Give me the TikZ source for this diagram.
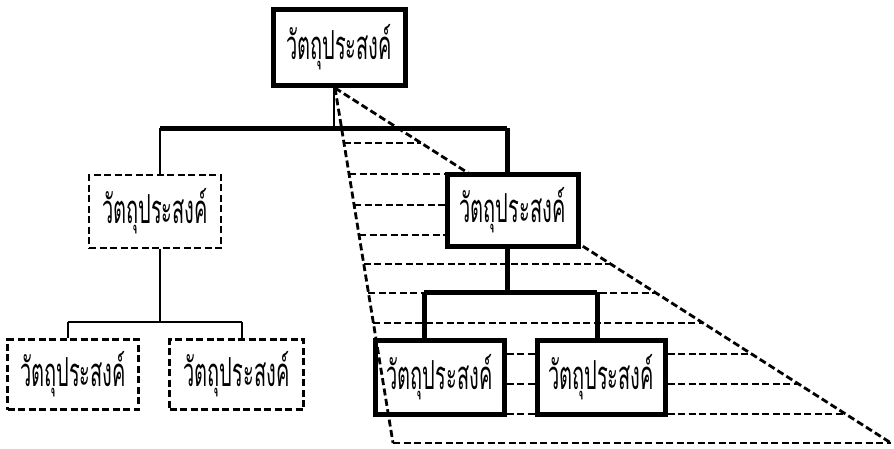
\documentclass[tikz,border=0pt]{standalone}
\usepackage{fontspec}
\newfontfamily\thaifont[Script=Thai]{Loma}
\usetikzlibrary{calc}
\tikzset{
  objbox/.style={draw, fill=white, line width=5pt, inner sep=0pt,
    font=\thaifont\fontsize{40}{44}\selectfont},
  ghostbox/.style={draw, dash pattern=on 7pt off 3.5pt, line width=2.6pt,
    inner sep=0pt, font=\thaifont\fontsize{40}{44}\selectfont},
  heavy/.style={line width=5pt},
  light/.style={line width=1.6pt},
  guide/.style={dash pattern=on 7pt off 3.5pt, line width=2.8pt},
}
\newcommand{\objtext}{\scalebox{0.5}[1]{วัตถุประสงค์}}
\begin{document}
\begin{tikzpicture}[x=1pt,y=-1pt]
\useasboundingbox (0,0) rectangle (894,448);

% trapezoid frame
\coordinate (apex) at (335,88);
\coordinate (bl) at (393,443);
\coordinate (br) at (891,443);

% nodes
\node[objbox, minimum width=132pt, minimum height=76pt] (top) at (339,47) {\objtext};
\node[ghostbox, minimum width=132pt, minimum height=73pt] (lmid) at (155,211.5) {\objtext};
\node[ghostbox, minimum width=131pt, minimum height=70pt] (lla) at (73,374.5) {\objtext};
\node[ghostbox, minimum width=134pt, minimum height=70pt] (llb) at (236.5,374.5) {\objtext};

% right edge of the frame and full-width level lines (behind the boxes)
\draw[guide] (apex) -- (br);
\foreach \yy in {143,264,293,323,443}{
  \pgfmathsetmacro{\lev}{(\yy-88)/355}
  \coordinate (pl) at ($(apex)!\lev!(bl)$);
  \coordinate (pr) at ($(apex)!\lev!(br)$);
  \draw[guide] (pl) -- (pr);
}

\node[objbox, minimum width=131pt, minimum height=72pt] (rmid) at (512.5,210) {\objtext};
\node[objbox, minimum width=129pt, minimum height=74pt] (rla) at (439.5,377) {\objtext};
\node[objbox, minimum width=128pt, minimum height=74pt] (rlb) at (601,377) {\objtext};

% level lines broken by the boxes
\foreach \yy in {174,205,235}{
  \pgfmathsetmacro{\lev}{(\yy-88)/355}
  \coordinate (pl) at ($(apex)!\lev!(bl)$);
  \draw[guide] (pl) -- (pl -| rmid.west);
}
\foreach \yy in {354,384,414}{
  \pgfmathsetmacro{\lev}{(\yy-88)/355}
  \coordinate (pr) at ($(apex)!\lev!(br)$);
  \draw[guide] (pr -| rla.east) -- (pr -| rlb.west);
  \draw[guide] (pr -| rlb.east) -- (pr);
}

% tree connectors
\coordinate (j0) at (334,128);
\coordinate (jl) at (160,128);
\coordinate (jr) at (507,128);
\draw[light] (top.south -| j0) -- (j0);
\draw[heavy] (jl) -- (jr);
\draw[light] (jl) -- (lmid.north -| jl);
\draw[heavy] (jr) -- (rmid.north -| jr);

\coordinate (k0) at (160,322);
\coordinate (ka) at (68,322);
\coordinate (kb) at (242,322);
\draw[light] (lmid.south -| k0) -- (k0);
\draw[line width=2pt] (ka) -- (kb);
\draw[light] (ka) -- (lla.north -| ka);
\draw[light] (kb) -- (llb.north -| kb);

\coordinate (m0) at (507,292);
\coordinate (ma) at (424,292);
\coordinate (mb) at (597,292);
\draw[heavy] (rmid.south -| m0) -- (m0);
\draw[heavy] (ma) -- (mb);
\draw[heavy] (ma) -- (rla.north -| ma);
\draw[heavy] (mb) -- (rlb.north -| mb);

% left edge of the frame, over the boxes
\draw[guide] (apex) -- (bl);
\end{tikzpicture}
\end{document}
